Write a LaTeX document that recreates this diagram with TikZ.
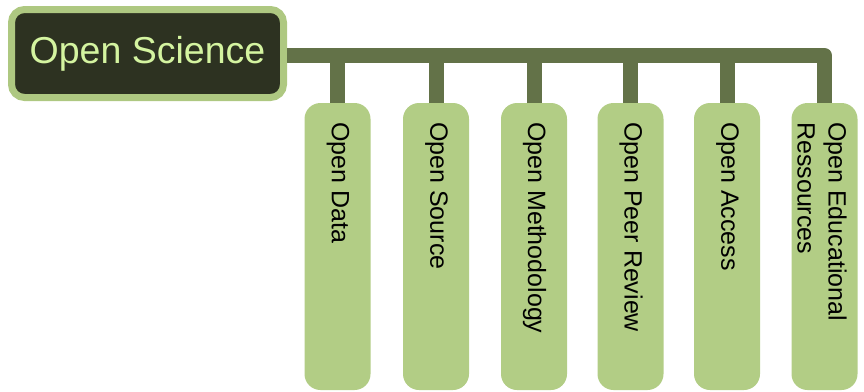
\documentclass[tikz,border=0pt]{standalone}
\usepackage{fontspec}
\setmainfont{Liberation Sans}
\definecolor{leaf}{HTML}{B2CD85}
\definecolor{rootfill}{HTML}{2D3221}
\definecolor{rootborder}{HTML}{AEC881}
\definecolor{roottext}{HTML}{D4F4A0}
\definecolor{branch}{HTML}{637248}
\tikzset{
  rootbox/.style={draw=rootborder, fill=rootfill, line width=7pt,
    rounded corners=13pt, minimum width=272pt, minimum height=88pt,
    text=roottext, font=\fontsize{37.5}{44}\selectfont, inner sep=0pt},
  leafbox/.style={fill=leaf, rounded corners=16pt, minimum width=66pt,
    minimum height=287pt, inner sep=0pt, outer sep=0pt},
  leaflabel/.style={rotate=-90, anchor=west, inner sep=0pt, align=left,
    font=\fontsize{25}{31}\selectfont, text=black},
  bus/.style={draw=branch, line width=15pt, line join=round}
}
\begin{document}
\begin{tikzpicture}[x=1pt, y=-1pt]
\useasboundingbox (0,0) rectangle (864,391);

% central topic
\node[rootbox] (root) at (147.5,53.5) {Open Science};

% subtopic columns
\node[leafbox] (c1) at (337.5,246.5) {};
\node[leafbox] (c2) at (436,246.5) {};
\node[leafbox] (c3) at (534,246.5) {};
\node[leafbox] (c4) at (630.5,246.5) {};
\node[leafbox] (c5) at (727,246.5) {};
\node[leafbox] (c6) at (824.5,246.5) {};

% rotated captions
\node[leaflabel] (t1) at (338,122) {Open Data};
\node[leaflabel] (t2) at (436.5,122) {Open Source};
\node[leaflabel] (t3) at (534.5,122) {Open Methodology};
\node[leaflabel] (t4) at (631,122) {Open Peer Review};
\node[leaflabel] (t5) at (727.5,122) {Open Access};
\node[leaflabel] (t6) at (822,122) {Open Educational\\Ressources};

% branch bus and drops
\coordinate (busstart) at ([yshift=-2pt]root.east);
\draw[bus] (busstart) -| (c6.north);
\foreach \i in {1,...,5}{
  \draw[bus] (c\i.north) -- (c\i.north |- busstart);
}
\end{tikzpicture}
\end{document}
